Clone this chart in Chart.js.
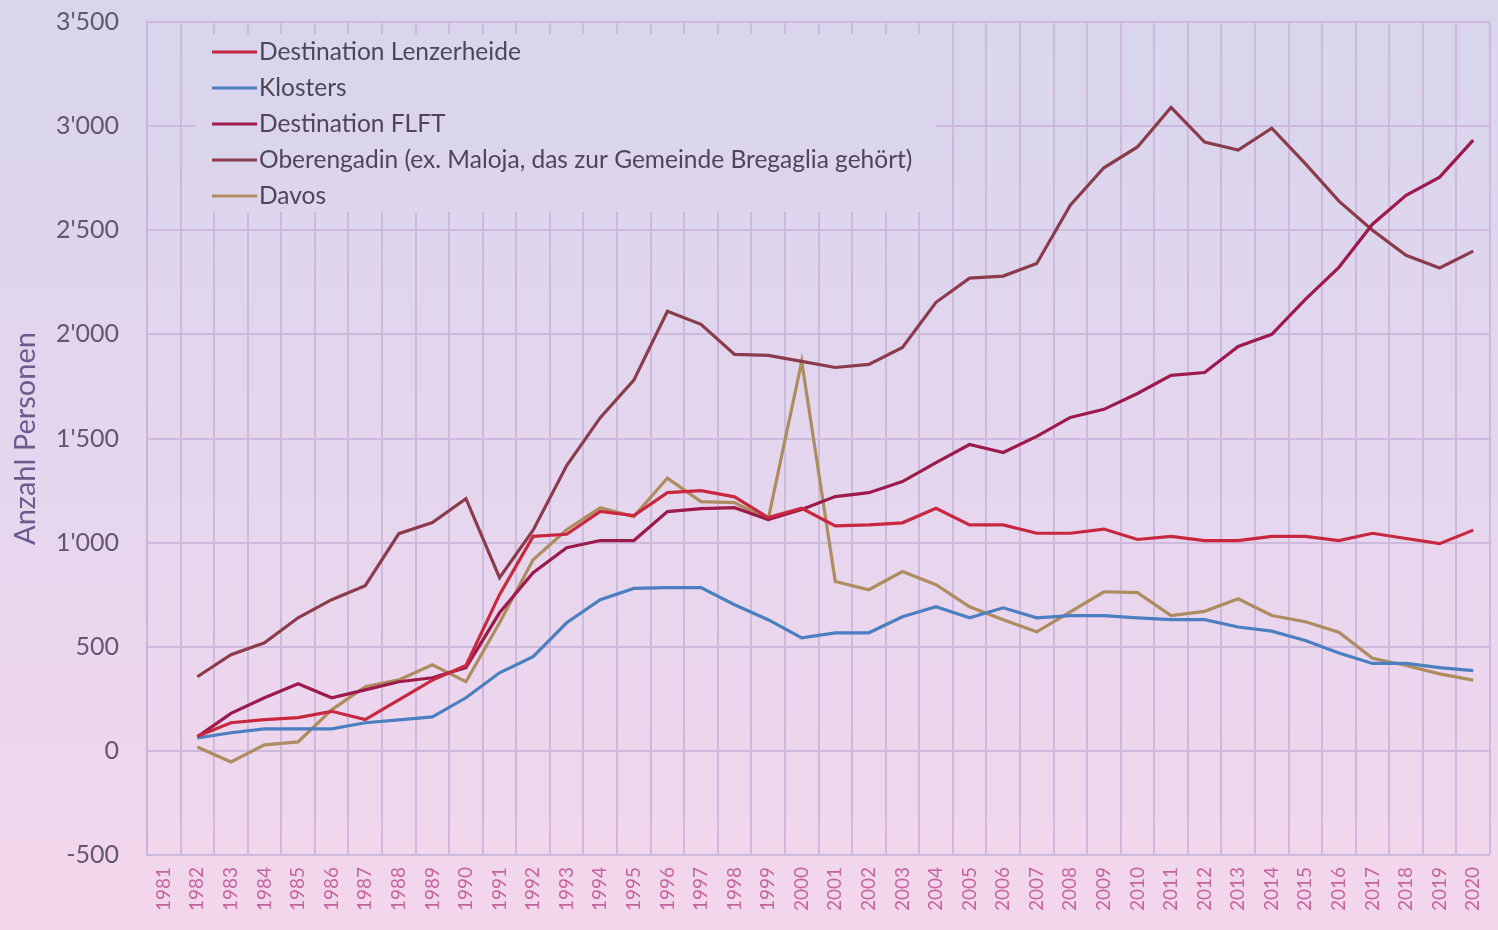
<!DOCTYPE html>
<html>
<head>
<meta charset="utf-8">
<script src="https://cdn.jsdelivr.net/npm/chart.js@4"></script>
<style>
  html, body { margin: 0; padding: 0; }
  body { width: 1498px; height: 930px; overflow: hidden; background: #e4d6ec; }
</style>
</head>
<body>
<canvas id="myChart" width="1498" height="930"></canvas>
<script>
// data
var years = ["1981","1982","1983","1984","1985","1986","1987","1988","1989","1990",
  "1991","1992","1993","1994","1995","1996","1997","1998","1999","2000",
  "2001","2002","2003","2004","2005","2006","2007","2008","2009","2010",
  "2011","2012","2013","2014","2015","2016","2017","2018","2019","2020"];

var lenzerheide = [null, 70, 135, 150, 160, 190, 150, 245, 340, 410, 750, 1030, 1040, 1150, 1130, 1240, 1250, 1220, 1120, 1165,
  1080, 1085, 1095, 1165, 1085, 1085, 1045, 1045, 1065, 1015, 1030, 1010, 1010, 1030, 1030, 1010, 1045, 1020, 995, 1060];
var klosters = [null, 62, 87, 106, 106, 106, 135, 149, 163, 255, 375, 452, 615, 726, 780, 784, 784, 702, 630, 543,
  567, 567, 644, 692, 639, 687, 639, 649, 649, 639, 630, 630, 595, 575, 530, 470, 420, 420, 400, 385];
var flft = [null, 67, 180, 255, 322, 255, 293, 332, 351, 400, 663, 856, 976, 1010, 1010, 1149, 1163, 1168, 1111, 1159,
  1221, 1240, 1293, 1384, 1471, 1433, 1510, 1601, 1640, 1716, 1803, 1817, 1942, 2000, 2168, 2322, 2529, 2668, 2755, 2933];
var oberengadin = [null, 356, 462, 519, 639, 726, 793, 1043, 1096, 1211, 832, 1060, 1370, 1600, 1780, 2111, 2048, 1904, 1899, 1870,
  1841, 1856, 1937, 2154, 2270, 2280, 2340, 2620, 2800, 2900, 3090, 2923, 2885, 2990, 2820, 2640, 2500, 2380, 2319, 2400];
var davos = [null, 19, -53, 29, 43, 197, 308, 341, 413, 332, 615, 918, 1062, 1168, 1125, 1310, 1197, 1192, 1111, 1870,
  813, 774, 861, 798, 692, 630, 572, 668, 764, 760, 650, 670, 730, 650, 620, 570, 445, 410, 370, 340];

var seriesNames = ["Destination Lenzerheide", "Klosters", "Destination FLFT",
  "Oberengadin (ex. Maloja, das zur Gemeinde Bregaglia gehört)", "Davos"];
var seriesColors = ["#c8283f", "#4b7fbf", "#9c1a4c", "#8b3c4c", "#ad8c5f"];

function bgGradient(ctx, h) {
  var g = ctx.createLinearGradient(0, 0, 0, h);
  g.addColorStop(0, "#d7d5ec");
  g.addColorStop(0.5, "#e4d6ee");
  g.addColorStop(1, "#f4d6ec");
  return g;
}

function fmt(v) {
  var s = String(Math.abs(v));
  if (s.length > 3) s = s.slice(0, s.length - 3) + "'" + s.slice(-3);
  return (v < 0 ? "-" : "") + s;
}

// page background
var background = {
  id: "background",
  beforeDraw: function (chart) {
    var ctx = chart.ctx;
    ctx.save();
    ctx.fillStyle = bgGradient(ctx, chart.height);
    ctx.fillRect(0, 0, chart.width, chart.height);
    ctx.restore();
  }
};

// legend sitting inside the plot, top left
var legendBox = {
  id: "legendBox",
  beforeDatasetsDraw: function (chart) {
    var ctx = chart.ctx;
    ctx.save();
    ctx.fillStyle = bgGradient(ctx, chart.height);
    ctx.fillRect(196, 34, 740, 178);
    ctx.font = "24.5px Lato";
    ctx.textBaseline = "middle";
    chart.data.datasets.forEach(function (ds, i) {
      var y = 52 + i * 36;
      ctx.strokeStyle = ds.borderColor;
      ctx.lineWidth = 3;
      ctx.beginPath();
      ctx.moveTo(212, y);
      ctx.lineTo(257, y);
      ctx.stroke();
      ctx.fillStyle = "#4d4658";
      ctx.fillText(ds.label, 259, y);
    });
    ctx.restore();
  }
};

var allSeries = [lenzerheide, klosters, flft, oberengadin, davos];

new Chart("myChart", {
  type: "line",
  data: {
    labels: years,
    datasets: allSeries.map(function (d, i) {
      return {
        label: seriesNames[i],
        data: d,
        borderColor: seriesColors[i],
        backgroundColor: seriesColors[i],
        borderWidth: 3.2,
        pointRadius: 0,
        tension: 0,
        fill: false
      };
    })
  },
  options: {
    responsive: false,
    animation: false,
    layout: { padding: { top: 22, right: 8, left: 0, bottom: 0 } },
    plugins: {
      legend: { display: false },
      tooltip: { enabled: false }
    },
    scales: {
      x: {
        offset: true,
        ticks: {
          minRotation: 90, maxRotation: 90, autoSkip: false,
          color: "#c4649c", font: { family: "Lato", size: 19 }, padding: 12
        },
        grid: { offset: true, color: "#cdb9dc", lineWidth: 2, drawTicks: false },
        border: { display: false },
        afterFit: function (s) { s.height = 75; s.paddingLeft = 0; s.paddingRight = 0; }
      },
      y: {
        min: -500,
        max: 3500,
        ticks: {
          stepSize: 500, color: "#625670", font: { family: "Lato", size: 25 }, padding: 28,
          callback: function (v) { return fmt(v); }
        },
        grid: { color: "#cdb9dc", lineWidth: 2, drawTicks: false },
        border: { color: "#c9b5d8", width: 2 },
        title: {
          display: true, text: "Anzahl Personen", color: "#6c5a8c",
          font: { family: "Lato", size: 29 }, padding: { top: 8, bottom: 0 }
        },
        afterFit: function (s) { s.width = 147; s.paddingTop = 0; s.paddingBottom = 0; }
      }
    }
  },
  plugins: [background, legendBox]
});
</script>
</body>
</html>
